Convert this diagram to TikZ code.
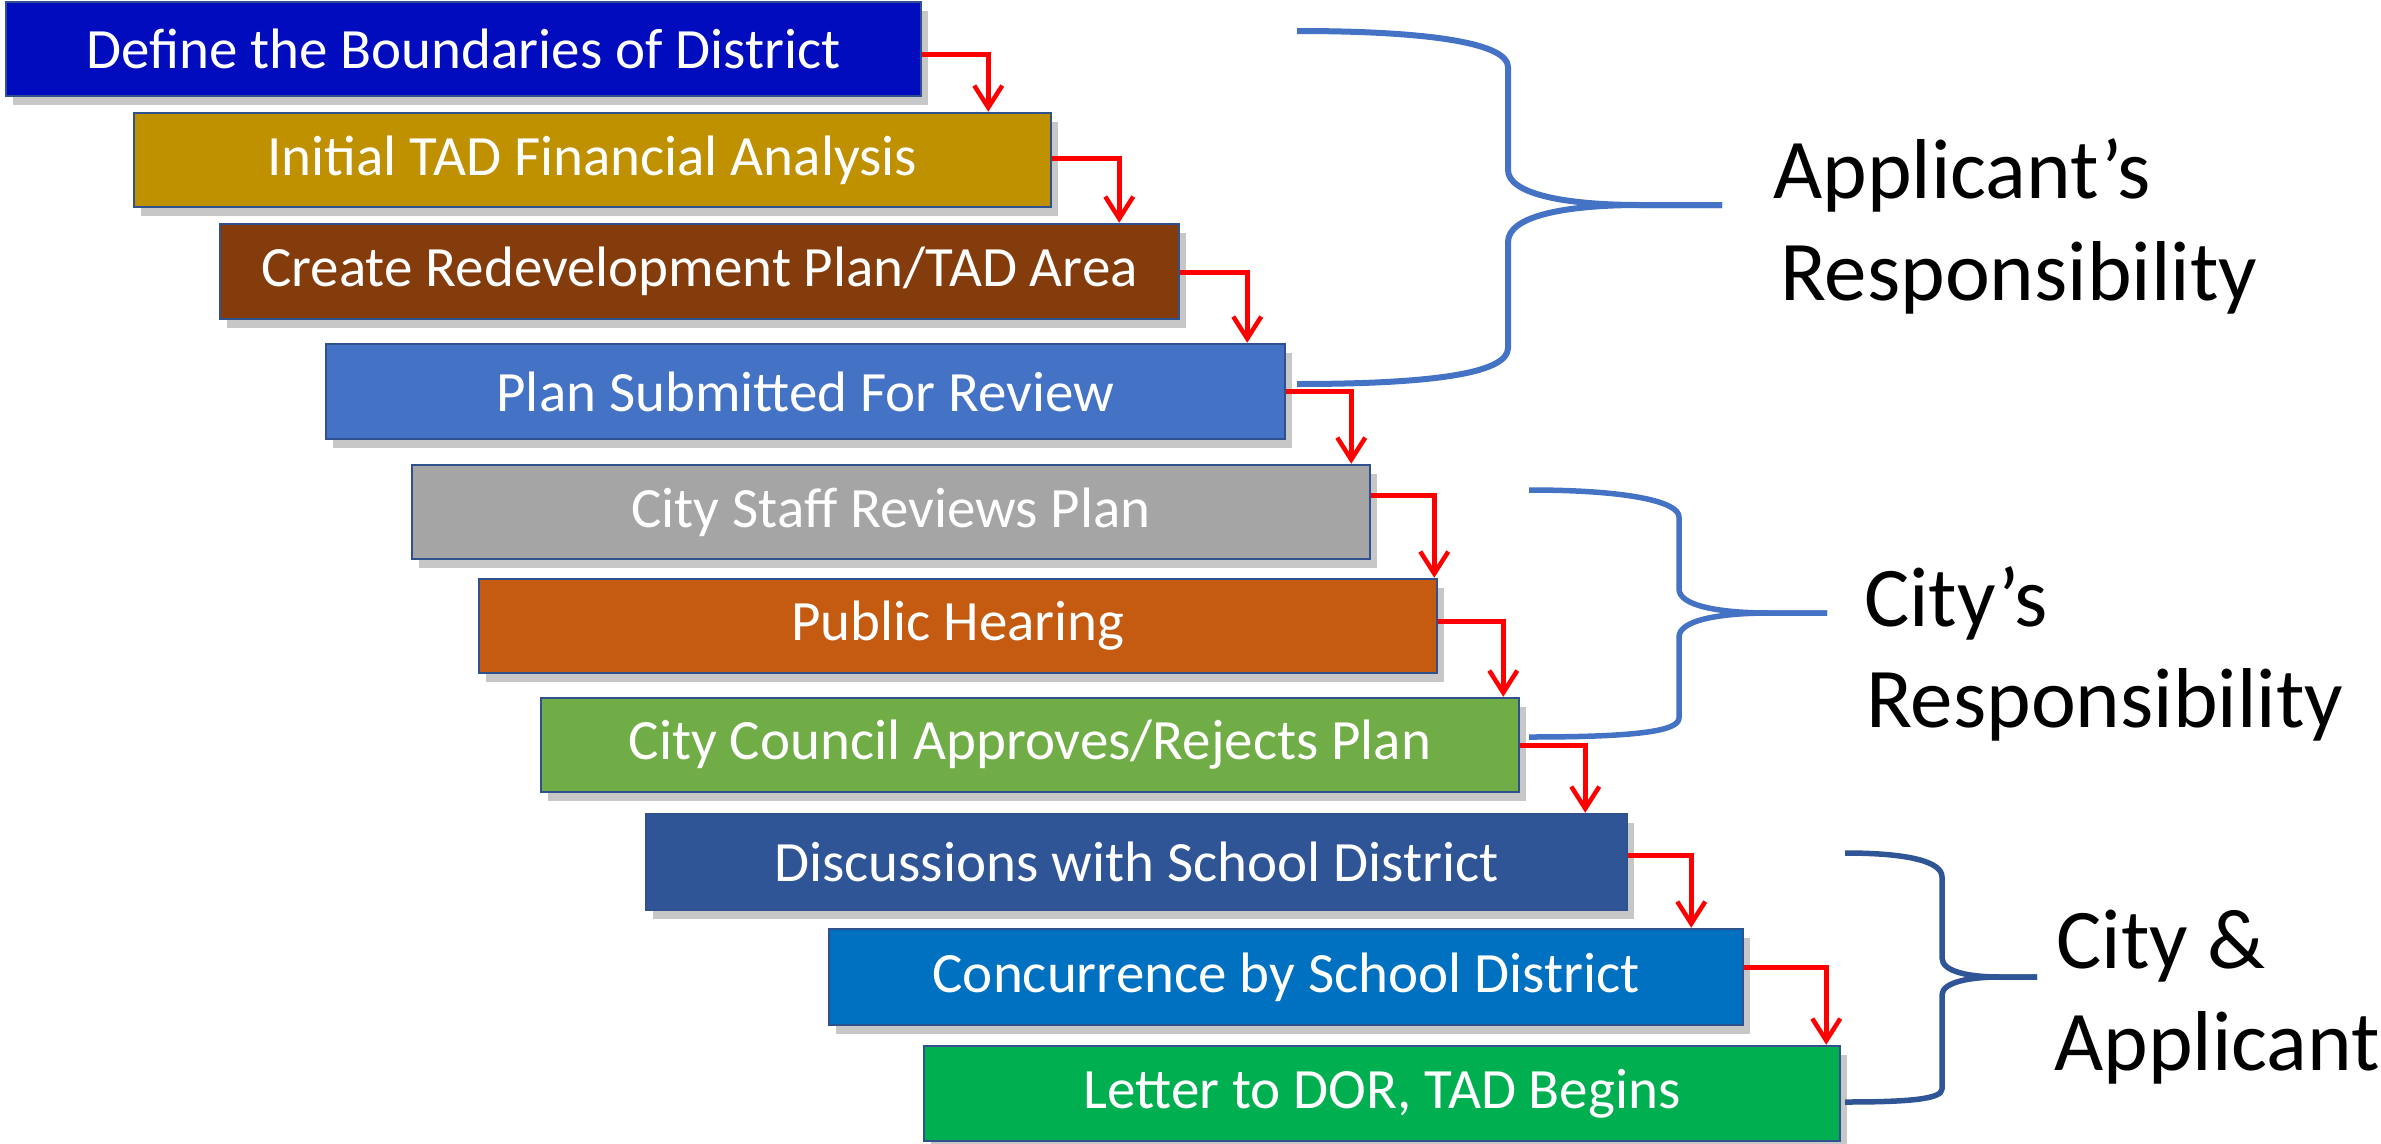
\documentclass[tikz,border=0pt]{standalone}
\usepackage{fontspec}
\setmainfont{Carlito}
\usetikzlibrary{arrows.meta,shadows}
\definecolor{c1}{RGB}{0,12,190}
\definecolor{c2}{RGB}{191,144,0}
\definecolor{c3}{RGB}{132,60,12}
\definecolor{c4}{RGB}{68,114,196}
\definecolor{c5}{RGB}{165,165,165}
\definecolor{c6}{RGB}{197,90,17}
\definecolor{c7}{RGB}{112,173,71}
\definecolor{c8}{RGB}{47,85,151}
\definecolor{c9}{RGB}{0,112,192}
\definecolor{c10}{RGB}{0,176,80}
\definecolor{boxedge}{RGB}{47,82,143}
\definecolor{braceA}{RGB}{68,114,196}
\definecolor{braceB}{RGB}{47,85,151}
\tikzset{
  stepbox/.style={draw=boxedge, line width=2.5pt, text=white, inner sep=0pt,
    font=\fontsize{57}{64}\selectfont,
    drop shadow={shadow xshift=7pt, shadow yshift=-9pt, fill=black, opacity=0.22}},
  flow/.style={draw=red, line width=5pt,
    -{Straight Barb[length=22pt,width=28pt,line width=4.5pt]}},
  brace/.style={line width=6pt, line cap=butt, line join=round},
  lbl/.style={anchor=base west, inner sep=0pt, font=\fontsize{85}{100}\selectfont}
}
\begin{document}
\begin{tikzpicture}[x=1pt,y=-1pt]
\useasboundingbox (0,0) rectangle (2381,1143);
% boxes
\node[stepbox, fill=c1,  minimum width=915pt, minimum height=94pt] (b1)  at (463.5,49)   {Define the Boundaries of District};
\node[stepbox, fill=c2,  minimum width=917pt, minimum height=94pt] (b2)  at (592.5,160)  {Initial TAD Financial Analysis};
\node[stepbox, fill=c3,  minimum width=959pt, minimum height=95pt] (b3)  at (699.5,271.5){Create Redevelopment Plan/TAD Area};
\node[stepbox, fill=c4,  minimum width=959pt, minimum height=95pt] (b4)  at (805.5,391.5){Plan Submitted For Review};
\node[stepbox, fill=c5,  minimum width=958pt, minimum height=94pt] (b5)  at (891,512)    {City Staff Reviews Plan};
\node[stepbox, fill=c6,  minimum width=958pt, minimum height=94pt] (b6)  at (958,626)    {Public Hearing};
\node[stepbox, fill=c7,  minimum width=978pt, minimum height=94pt] (b7)  at (1030,745)   {City Council Approves/Rejects Plan};
\node[stepbox, fill=c8,  minimum width=981pt, minimum height=96pt] (b8)  at (1136.5,862) {Discussions with School District};
\node[stepbox, fill=c9,  minimum width=914pt, minimum height=96pt] (b9)  at (1286,977)   {Concurrence by School District};
\node[stepbox, fill=c10, minimum width=916pt, minimum height=95pt] (b10) at (1382,1093.5){Letter to DOR, TAD Begins};
% connectors
\draw[flow] ([yshift=-5pt]b1.east) -| ([xshift=-64pt]b2.north east);
\draw[flow] ([yshift=2pt]b2.east)  -| ([xshift=-61pt]b3.north east);
\draw[flow] ([yshift=-1pt]b3.east) -| ([xshift=-39pt]b4.north east);
\draw[flow] (b4.east)              -| ([xshift=-20pt]b5.north east);
\draw[flow] ([yshift=17pt]b5.east) -| ([xshift=-4pt]b6.north east);
\draw[flow] ([yshift=5pt]b6.east)  -| ([xshift=-17pt]b7.north east);
\draw[flow] (b7.east)              -| ([xshift=-43pt]b8.north east);
\draw[flow] ([yshift=7pt]b8.east)  -| ([xshift=-53pt]b9.north east);
\draw[flow] ([yshift=10pt]b9.east) -| ([xshift=-15pt]b10.north east);
% brace 1
\draw[brace, draw=braceA] (1297,31) .. controls (1440,31) and (1508,45) .. (1508,67) -- (1508,170)
  .. controls (1508,194) and (1565,205) .. (1640,205) -- (1722,205);
\draw[brace, draw=braceA] (1722,205) -- (1640,205) .. controls (1565,205) and (1508,216) .. (1508,242)
  -- (1508,348) .. controls (1508,372) and (1440,384) .. (1297,384);
% brace 2
\draw[brace, draw=braceA, line width=5.5pt] (1529,490) .. controls (1630,490) and (1679,502) .. (1679,517) -- (1679,589)
  .. controls (1679,606) and (1720,613) .. (1770,613) -- (1827,613);
\draw[brace, draw=braceA, line width=5.5pt] (1827,613) -- (1770,613) .. controls (1720,613) and (1679,620) .. (1679,637)
  -- (1679,718) .. controls (1679,732) and (1630,737) .. (1529,737);
% brace 3
\draw[brace, draw=braceB, line width=5.5pt] (1845,853) .. controls (1910,853) and (1942,862) .. (1942,877) -- (1942,958)
  .. controls (1942,972) and (1970,977) .. (2000,977) -- (2037,977);
\draw[brace, draw=braceB, line width=5.5pt] (2037,977) -- (2000,977) .. controls (1970,977) and (1942,982) .. (1942,995)
  -- (1942,1089) .. controls (1942,1099) and (1910,1102) .. (1845,1102);
% labels
\node[lbl] (l1a) at (1773,198) {Applicant’s};
\node[lbl] (l1b) at (1780,300) {Responsibility};
\node[lbl] (l2a) at (1864,626) {City’s};
\node[lbl] (l2b) at (1866,727) {Responsibility};
\node[lbl] (l3a) at (2056,968) {City \&};
\node[lbl] (l3b) at (2054,1070) {Applicant};
\end{tikzpicture}
\end{document}
